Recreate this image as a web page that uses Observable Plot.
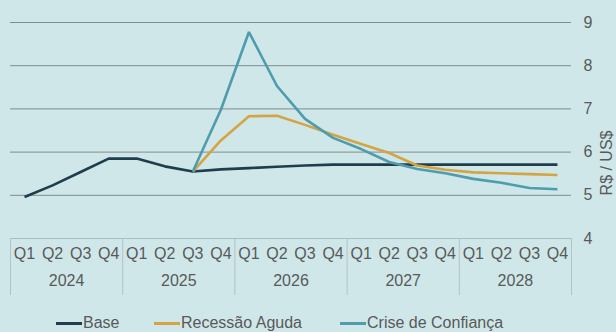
<!DOCTYPE html>
<html>
<head>
<meta charset="utf-8">
<script src="https://cdn.jsdelivr.net/npm/d3@7"></script>
<script src="https://cdn.jsdelivr.net/npm/@observablehq/plot@0.6"></script>
<style>
  html, body { margin: 0; padding: 0; background: #cfe7e8; }
  #chart { position: relative; width: 616px; height: 332px; background: #cfe7e8;
           font-family: "Liberation Sans", Arial, sans-serif; color: #595959; overflow: hidden; }
  #chart svg { display: block; }
  .legend { position: relative; height: 27px; }
  .legend .item { position: absolute; top: 9px; display: flex; align-items: center;
                  font-size: 16px; line-height: 18px; color: #595959; white-space: nowrap; }
  .legend .swatch { display: inline-block; width: 26px; height: 3px; margin-right: 1px; }
</style>
</head>
<body>
<div id="chart"></div>
<script>
// Quarterly exchange-rate scenarios, R$ per US$
const years = ["2024", "2025", "2026", "2027", "2028"];
const quarters = ["Q1", "Q2", "Q3", "Q4"];

const base      = [4.96, 5.23, 5.54, 5.85, 5.85, 5.67, 5.55, 5.60, 5.63, 5.66, 5.69, 5.71, 5.71, 5.71, 5.71, 5.71, 5.71, 5.71, 5.71, 5.71];
const recessao  = [null, null, null, null, null, null, 5.55, 6.27, 6.83, 6.84, 6.63, 6.40, 6.19, 5.98, 5.69, 5.59, 5.53, 5.51, 5.49, 5.47];
const crise     = [null, null, null, null, null, null, 5.55, 6.98, 8.78, 7.53, 6.77, 6.33, 6.07, 5.77, 5.61, 5.51, 5.38, 5.29, 5.17, 5.14];

const seriesNames  = ["Base", "Recessão Aguda", "Crise de Confiança"];
const seriesColors = ["#1f3e4d", "#d4a444", "#4e9cac"];
const yTicks = [4, 5, 6, 7, 8, 9];
const yAxisLabel = "R$ / US$";

// Long-format table for the line marks
const seriesValues = [base, recessao, crise];
const rows = [];
seriesValues.forEach((values, s) => {
  values.forEach((v, i) => {
    if (v != null) rows.push({ i, v, serie: seriesNames[s] });
  });
});

// Quarter positions, year centres and year separators on the index scale
const quarterIdx = d3.range(years.length * quarters.length);
const yearCentres = years.map((y, k) => ({ label: y, x: k * quarters.length + (quarters.length - 1) / 2 }));
const separators = d3.range(years.length + 1).map(k => k * quarters.length - 0.5);

const font = "\"Liberation Sans\", Arial, sans-serif";

const plot = Plot.plot({
  width: 616,
  height: 305,
  marginTop: 22,
  marginBottom: 67,
  marginLeft: 10,
  marginRight: 45,
  style: { background: "transparent", fontFamily: font, fontSize: "16px", color: "#595959" },
  x: { domain: [-0.5, quarterIdx.length - 0.5], axis: null },
  y: { domain: [4, 9], ticks: yTicks, tickFormat: d3.format("d"), axis: "right", tickSize: 0, tickPadding: 12, label: null },
  color: { domain: seriesNames, range: seriesColors },
  marks: [
    Plot.ruleY(yTicks.filter(t => t > 4), { stroke: "#7f8d8d", strokeWidth: 1 }),
    Plot.ruleY([4], { stroke: "#aebcbc", strokeWidth: 1 }),
    Plot.ruleX(separators, { x: d => d, y1: 4, y2: 4, insetBottom: -57, stroke: "#b4c3c3", strokeWidth: 1 }),
    Plot.text(quarterIdx, {
      x: d => d, frameAnchor: "bottom", dy: 20,
      text: d => quarters[d % quarters.length], fontSize: 16, fill: "#595959"
    }),
    Plot.text(yearCentres, {
      x: "x", frameAnchor: "bottom", dy: 47, text: "label", fontSize: 16, fill: "#595959"
    }),
    Plot.text([yAxisLabel], {
      frameAnchor: "right", dx: 35, rotate: -90, fontSize: 16, fill: "#595959"
    }),
    Plot.line(rows, {
      x: "i", y: "v", z: "serie", stroke: "serie",
      strokeWidth: 2.6, strokeLinejoin: "miter", strokeLinecap: "butt"
    })
  ]
});

const chart = document.getElementById("chart");
chart.appendChild(plot);

// Legend row below the plot
const legend = document.createElement("div");
legend.className = "legend";
const legendLeft = [56, 154, 340];
seriesNames.forEach((name, k) => {
  const item = document.createElement("div");
  item.className = "item";
  item.style.left = legendLeft[k] + "px";
  const sw = document.createElement("span");
  sw.className = "swatch";
  sw.style.background = seriesColors[k];
  const label = document.createElement("span");
  label.textContent = name;
  item.appendChild(sw);
  item.appendChild(label);
  legend.appendChild(item);
});
chart.appendChild(legend);
</script>
</body>
</html>
